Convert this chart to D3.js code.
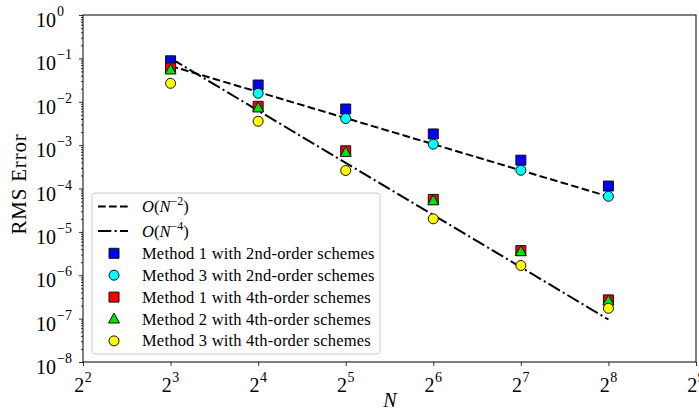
<!DOCTYPE html>
<html>
<head>
<meta charset="utf-8">
<script src="https://cdn.jsdelivr.net/npm/d3@7"></script>
<style>
  html, body { margin: 0; padding: 0; background: #fff; }
  svg { display: block; }
  text { font-family: "Liberation Serif", "DejaVu Serif", serif; fill: #000; }
</style>
</head>
<body>
<svg id="chart" width="699" height="412"></svg>
<script>
// ---------------- data ----------------
const N = [8, 16, 32, 64, 128, 256];
const ref2 = [0.067, 0.0168, 0.0042, 0.00105, 0.000262, 0.0000655];      // O(N^-2)
const ref4 = [0.1, 0.00625, 0.00039, 0.0000244, 0.00000153, 0.0000000954]; // O(N^-4)
const m1_2nd = [0.088, 0.0243, 0.0068, 0.00181, 0.00045, 0.000114];
const m3_2nd = [0.062, 0.0157, 0.0041, 0.00105, 0.000263, 0.000066];
const m1_4th = [0.060, 0.00785, 0.00074, 0.000056, 0.0000037, 0.00000027];
const m2_4th = [0.054, 0.0072, 0.00068, 0.000052, 0.0000035, 0.000000255];
const m3_4th = [0.0266, 0.00355, 0.00026, 0.00002, 0.00000168, 0.000000173];
const xTickExps = [2, 3, 4, 5, 6, 7, 8, 9];
const yTickExps = [0, -1, -2, -3, -4, -5, -6, -7, -8];
const legendLabels = [
  "Method 1 with 2nd-order schemes",
  "Method 3 with 2nd-order schemes",
  "Method 1 with 4th-order schemes",
  "Method 2 with 4th-order schemes",
  "Method 3 with 4th-order schemes"
];

// ---------------- layout ----------------
const svg = d3.select("#chart");
const L = 83, R = 696, T = 15, B = 362;
const x = d3.scaleLog().base(2).domain([4, 512]).range([L, R]);
const y = d3.scaleLog().base(10).domain([1e-8, 1]).range([B, T]);

const series = [
  { vals: m1_2nd, shape: "square",   fill: "#0000ff" },
  { vals: m3_2nd, shape: "circle",   fill: "#00ffff" },
  { vals: m1_4th, shape: "square",   fill: "#ff0000" },
  { vals: m2_4th, shape: "triangle", fill: "#00e600" },
  { vals: m3_4th, shape: "circle",   fill: "#ffff00" }
];
const refs = [
  { vals: ref2, dash: "7.7,3.3" },
  { vals: ref4, dash: "13.3,3.3,2.1,3.3" }
];

function markerPath(shape) {
  if (shape === "square") return "M-5,-5H5V5H-5Z";
  if (shape === "circle") return d3.symbol().type(d3.symbolCircle).size(Math.PI * 25)();
  return "M0,-6L5.5,4L-5.5,4Z";
}

// reference lines
const line = d3.line().x((d, i) => x(N[i])).y(d => y(d));
refs.forEach(r => {
  svg.append("path").datum(r.vals)
    .attr("d", line)
    .attr("fill", "none").attr("stroke", "#000")
    .attr("stroke-width", 2).attr("stroke-dasharray", r.dash);
});

// markers
series.forEach(s => {
  svg.append("g").selectAll("path").data(s.vals).join("path")
    .attr("d", markerPath(s.shape))
    .attr("transform", (d, i) => `translate(${x(N[i])},${y(d)})`)
    .attr("fill", s.fill).attr("stroke", "#111").attr("stroke-width", 1);
});

// axes
const yMajors = yTickExps.map(e => Math.pow(10, e));
const yMinors = [];
for (let e = -8; e < 0; e++) for (let k = 2; k <= 9; k++) yMinors.push(k * Math.pow(10, e));

const gyMin = svg.append("g").attr("transform", `translate(${L},0)`)
  .call(d3.axisLeft(y).tickValues(yMinors).tickSize(2).tickFormat(""));
const gy = svg.append("g").attr("transform", `translate(${L},0)`)
  .call(d3.axisLeft(y).tickValues(yMajors).tickSize(4).tickFormat(""));
const gx = svg.append("g").attr("transform", `translate(0,${B})`)
  .call(d3.axisBottom(x).tickValues(xTickExps.map(e => Math.pow(2, e))).tickSize(4).tickFormat(""));
[gyMin, gy, gx].forEach(g => {
  g.select(".domain").remove();
  g.selectAll("line").attr("stroke", "#000").attr("stroke-width", 0.8);
});

// frame
svg.append("rect").attr("x", L).attr("y", T).attr("width", R - L).attr("height", B - T)
  .attr("fill", "none").attr("stroke", "#000").attr("stroke-width", 1);

// y tick labels
yTickExps.forEach(e => {
  const t = svg.append("text").attr("x", 36).attr("y", y(Math.pow(10, e)) + 12)
    .attr("font-size", 20);
  t.append("tspan").text("10");
  t.append("tspan").attr("dx", 1).attr("dy", -11).attr("font-size", 14)
    .text(e === 0 ? "0" : "\u2212" + (-e));
});

// x tick labels
xTickExps.forEach(e => {
  const t = svg.append("text").attr("x", x(Math.pow(2, e))).attr("y", 392)
    .attr("font-size", 20).attr("text-anchor", "middle");
  t.append("tspan").text("2");
  t.append("tspan").attr("dx", 0.5).attr("dy", -10).attr("font-size", 14).text(String(e));
});

// axis titles
svg.append("text").attr("transform", "translate(26,184) rotate(-90)")
  .attr("text-anchor", "middle").attr("font-size", 21).attr("letter-spacing", 0.8)
  .text("RMS Error");
svg.append("text").attr("x", 390).attr("y", 407).attr("text-anchor", "middle")
  .attr("font-size", 20).attr("font-style", "italic").text("N");

// legend
const lg = svg.append("g");
lg.append("rect").attr("x", 92).attr("y", 193).attr("width", 288).attr("height", 161)
  .attr("rx", 3).attr("fill", "#fff").attr("fill-opacity", 0.8)
  .attr("stroke", "#cccccc").attr("stroke-width", 1);

const refRows = [206.5, 231];
const refExps = ["\u22122", "\u22124"];
refs.forEach((r, i) => {
  lg.append("line").attr("x1", 98).attr("x2", 128).attr("y1", refRows[i]).attr("y2", refRows[i])
    .attr("stroke", "#000").attr("stroke-width", 2).attr("stroke-dasharray", r.dash);
  const t = lg.append("text").attr("x", 142).attr("y", refRows[i] + 5.5).attr("font-size", 16.5);
  t.append("tspan").attr("font-style", "italic").text("O");
  t.append("tspan").text("(");
  t.append("tspan").attr("font-style", "italic").text("N");
  t.append("tspan").attr("dy", -7).attr("font-size", 12).text(refExps[i]);
  t.append("tspan").attr("dy", 7).text(")");
});

series.forEach((s, i) => {
  const cy = 253.3 + i * 21.9;
  lg.append("path").attr("d", markerPath(s.shape))
    .attr("transform", `translate(114,${cy})`)
    .attr("fill", s.fill).attr("stroke", "#111").attr("stroke-width", 1);
  lg.append("text").attr("x", 142).attr("y", cy + 5.5).attr("font-size", 16.5)
    .attr("letter-spacing", 0.2).text(legendLabels[i]);
});
</script>
</body>
</html>
